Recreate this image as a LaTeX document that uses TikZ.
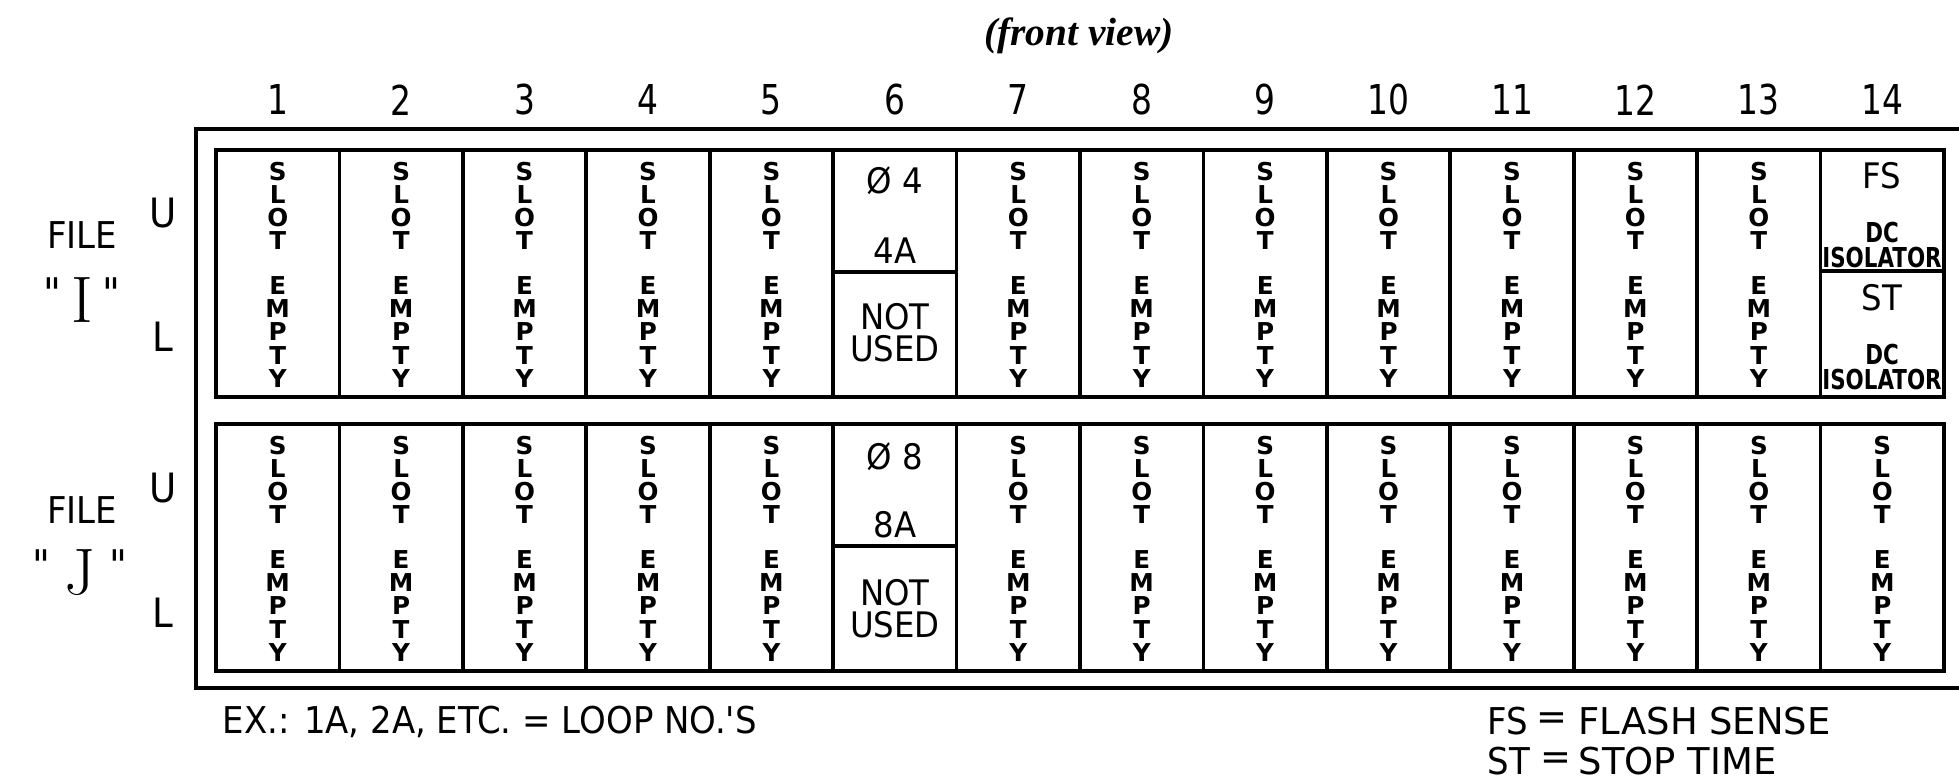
\documentclass[tikz,border=0pt]{standalone}
\usepackage{fontspec}
\newfontfamily\plot[FakeStretch=0.92]{DejaVu Sans}
\newfontfamily\plotn[FakeStretch=0.8]{DejaVu Sans}
\newfontfamily\plotc[FakeStretch=0.78]{DejaVu Sans}
\newfontfamily\plotv{DejaVu Sans}
\newfontfamily\titlefont{Liberation Serif}
\begin{document}
\begin{tikzpicture}[x=0.01cm,y=-0.01cm,
  frame/.style={line width=1.15pt},
  rack/.style={line width=1.05pt},
  colnum/.style={font=\plotn\fontsize{11.7}{14}\selectfont, inner sep=0pt},
  vword/.style={font=\plotv\bfseries\fontsize{7}{6.6}\selectfont, align=center, inner sep=0pt},
  lbl/.style={font=\plot\fontsize{10.5}{12}\selectfont, inner sep=0pt},
  note/.style={font=\plotv\fontsize{10.5}{12}\selectfont, inner sep=0pt},
  side/.style={font=\plot\fontsize{11.5}{13}\selectfont, inner sep=0pt},
  mid/.style={font=\plot\fontsize{10}{9.1}\selectfont, align=center, inner sep=0pt},
  iso/.style={font=\plotc\bfseries\fontsize{7.8}{7.1}\selectfont, align=center, inner sep=0pt},
  big/.style={font=\plot\fontsize{10}{12}\selectfont, inner sep=0pt},
]
\useasboundingbox (0,0) rectangle (1959,780);
\clip (0,0) rectangle (1959,780);

% title
\node[font=\titlefont\bfseries\itshape\fontsize{11.2}{13}\selectfont, inner sep=0pt] (title) at (1079,36) {(front view)};

% column numbers
\foreach \c in {1,...,14}
  \node[colnum] (num\c) at ({216+(\c-0.5)*123.43},100) {\c};

% outer frame (runs off the right edge)
\draw[frame] (1975,129) -- (196,129) -- (196,688) -- (1975,688);

% file I rack
\draw[rack] (216,150) rectangle (1944,397);
\foreach \i in {1,...,13}
  \draw[rack] ({216+\i*123.43},150) -- ({216+\i*123.43},397);
\draw[rack] (833.15,272) -- (956.58,272);
\draw[rack] (1820.57,271) -- (1944,271);

% file J rack
\draw[rack] (216,424) rectangle (1944,671);
\foreach \i in {1,...,13}
  \draw[rack] ({216+\i*123.43},424) -- ({216+\i*123.43},671);
\draw[rack] (833.15,546) -- (956.58,546);

% empty slots, file I
\foreach \c in {1,2,3,4,5,7,8,9,10,11,12,13} {
  \node[vword] (sa\c) at ({216+(\c-0.5)*123.43},206) {S\\L\\O\\T};
  \node[vword] (ea\c) at ({216+(\c-0.5)*123.43},332) {E\\M\\P\\T\\Y};
}
% empty slots, file J
\foreach \c in {1,2,3,4,5,7,8,9,10,11,12,13,14} {
  \node[vword] (sb\c) at ({216+(\c-0.5)*123.43},480) {S\\L\\O\\T};
  \node[vword] (eb\c) at ({216+(\c-0.5)*123.43},606) {E\\M\\P\\T\\Y};
}

% slot 6
\node[big] (ph4) at (895,181) {Ø 4};
\node[big] (l4a) at (895,251) {4A};
\node[mid] (nu1) at (895,333) {NOT\\USED};
\node[big] (ph8) at (895,457) {Ø 8};
\node[big] (l8a) at (895,525) {8A};
\node[mid] (nu2) at (895,609) {NOT\\USED};

% slot 14 file I
\node[big] (fs) at (1882,176) {FS};
\node[iso] (dc1) at (1882,245) {DC\\ISOLATOR};
\node[big] (st) at (1882,298) {ST};
\node[iso] (dc2) at (1882,367) {DC\\ISOLATOR};

% side labels
\node[lbl] (fileI) at (82,235) {FILE};
\node[inner sep=0pt] (nameI) at (82,300) {{\plot\fontsize{12}{13}\selectfont\raisebox{4pt}{"}}\hspace{2.8pt}{\rmfamily\fontsize{18.7}{22}\selectfont I}\hspace{2.8pt}{\plot\fontsize{12}{13}\selectfont\raisebox{4pt}{"}}};
\node[side] (uI) at (163,213) {U};
\node[side] (lI) at (163,337) {L};

\node[lbl] (fileJ) at (82,510) {FILE};
\node[inner sep=0pt] (nameJ) at (80,573) {{\plot\fontsize{12}{13}\selectfont\raisebox{4pt}{"}}\hspace{4pt}{\rmfamily\fontsize{18.7}{22}\selectfont J}\hspace{4pt}{\plot\fontsize{12}{13}\selectfont\raisebox{4pt}{"}}};
\node[side] (uJ) at (163,488) {U};
\node[side] (lJ) at (163,613) {L};

% notes
\node[lbl, anchor=west] (ex) at (222,722) {EX.: 1A, 2A, ETC. = LOOP NO.'S};
\node[lbl, anchor=west] (fsk) at (1487,721) {FS};
\node[note] (fseq) at (1552,721) {=};
\node[note, anchor=west] (fsv) at (1578,721) {FLASH SENSE};
\node[lbl, anchor=west] (stk) at (1487,761) {ST};
\node[note] (steq) at (1556,761) {=};
\node[note, anchor=west] (stv) at (1578,761) {STOP TIME};
\end{tikzpicture}
\end{document}
